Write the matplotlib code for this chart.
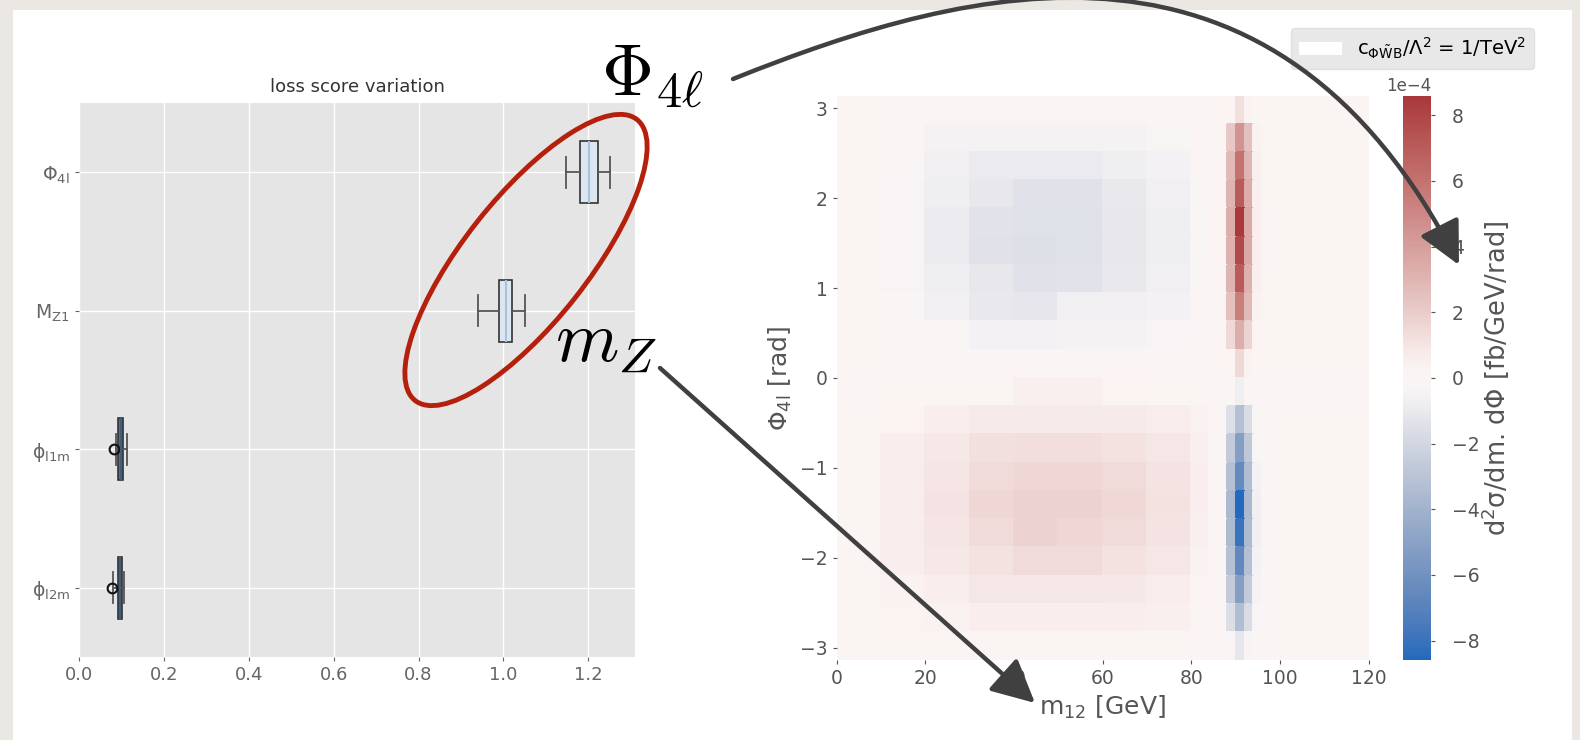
import numpy as np
import matplotlib
matplotlib.use("Agg")
import matplotlib.pyplot as plt
import seaborn as sns
from matplotlib.patches import Ellipse, FancyArrowPatch, Patch, Rectangle
from matplotlib.path import Path
from matplotlib.ticker import ScalarFormatter

plt.rcParams['font.family'] = ['DejaVu Sans']

# --- left panel: loss score variation (bottom to top) ---
features = [r'ϕ$_\mathregular{l2m}$', r'ϕ$_\mathregular{l1m}$',
            r'M$_\mathregular{Z1}$', r'Φ$_\mathregular{4l}$']
whis_lo = [0.081, 0.087, 0.941, 1.147]
q1 = [0.091, 0.093, 0.989, 1.180]
med = [0.097, 0.098, 1.006, 1.202]
q3 = [0.101, 0.104, 1.020, 1.222]
whis_hi = [0.107, 0.112, 1.052, 1.252]
fliers = [[0.077], [0.083], [], []]
box_colors = ['#4d7194', '#4d7194', '#dde6ef', '#dde6ef']
loss_ticks = [0.0, 0.2, 0.4, 0.6, 0.8, 1.0, 1.2]

# --- right panel: d2sigma / dm12 dPhi4l, units of 1e-4 fb/GeV/rad ---
m12_edges = [0, 10, 20, 30, 40, 50, 60, 70, 80, 84, 88, 90, 92, 94, 96, 100, 110, 120]
phi_edges = np.linspace(np.pi, -np.pi, 21)  # top row first
# columns: 0-10 10-20 20-30 30-40 40-50 50-60 60-70 70-80 80-84 84-88 88-90 90-92 92-94 94-96 96-100 100-110 110-120
dsigma = [
    [0.15, 0.10, 0.10, 0.10, 0.10, 0.10, 0.10, 0.10, 0.10, 0.15, 0.3, 1.2, 0.3, 0.15, 0.15, 0.15, 0.15],
    [0.15, 0.00, -0.5, -0.5, -0.5, -0.5, -0.5, -0.4, 0.05, 0.15, 2.2, 4.5, 2.6, 0.4, 0.2, 0.15, 0.15],
    [0.15, -0.25, -0.7, -0.95, -0.95, -0.95, -0.8, -0.55, 0.0, 0.25, 2.8, 6.0, 3.0, 0.5, 0.2, 0.15, 0.15],
    [0.15, -0.3, -0.8, -1.1, -1.35, -1.35, -1.05, -0.7, -0.1, 0.25, 3.0, 7.0, 3.4, 0.5, 0.2, 0.15, 0.15],
    [0.15, -0.3, -0.9, -1.3, -1.45, -1.45, -1.1, -0.8, -0.1, 0.3, 3.3, 8.6, 3.6, 0.6, 0.25, 0.15, 0.15],
    [0.15, -0.3, -0.9, -1.35, -1.5, -1.45, -1.1, -0.8, -0.1, 0.3, 3.2, 7.8, 3.5, 0.55, 0.25, 0.15, 0.15],
    [0.15, -0.3, -0.8, -1.1, -1.35, -1.3, -1.05, -0.7, -0.1, 0.25, 3.0, 7.0, 3.2, 0.5, 0.2, 0.15, 0.15],
    [0.15, -0.25, -0.7, -1.05, -1.2, -0.7, -0.7, -0.55, 0.0, 0.25, 2.5, 5.5, 2.8, 0.4, 0.2, 0.15, 0.15],
    [0.15, 0.0, -0.25, -0.55, -0.55, -0.5, -0.5, -0.3, 0.05, 0.2, 1.5, 3.3, 1.8, 0.3, 0.15, 0.15, 0.15],
    [0.15, 0.1, 0.1, 0.1, 0.1, 0.1, 0.1, 0.1, 0.1, 0.15, 0.3, 1.5, 0.4, 0.15, 0.15, 0.15, 0.15],
    [0.1, 0.2, 0.2, 0.2, 0.5, 0.5, 0.3, 0.2, 0.2, 0.1, -0.1, -0.8, -0.1, 0.05, 0.1, 0.1, 0.1],
    [0.15, 0.3, 0.55, 0.7, 0.7, 0.7, 0.7, 0.65, 0.4, 0.1, -1.5, -3.2, -1.7, -0.2, 0.1, 0.15, 0.15],
    [0.15, 0.55, 0.85, 1.2, 1.25, 1.25, 1.1, 0.9, 0.5, 0.1, -2.6, -5.2, -2.8, -0.4, 0.1, 0.15, 0.15],
    [0.15, 0.65, 1.0, 1.4, 1.6, 1.55, 1.4, 1.05, 0.55, 0.1, -3.2, -6.5, -3.4, -0.6, 0.1, 0.15, 0.15],
    [0.15, 0.65, 1.05, 1.55, 1.8, 1.8, 1.5, 1.1, 0.55, 0.1, -3.6, -8.6, -3.6, -0.7, 0.1, 0.15, 0.15],
    [0.15, 0.65, 1.0, 1.4, 1.7, 1.6, 1.4, 1.05, 0.5, 0.1, -3.5, -8.0, -3.5, -0.7, 0.1, 0.15, 0.15],
    [0.15, 0.55, 0.85, 1.1, 1.4, 1.4, 1.1, 0.9, 0.4, 0.1, -3.2, -6.6, -3.2, -0.6, 0.1, 0.15, 0.15],
    [0.15, 0.4, 0.55, 0.9, 0.9, 0.9, 0.85, 0.65, 0.3, 0.1, -2.6, -5.2, -2.6, -0.5, 0.1, 0.15, 0.15],
    [0.15, 0.3, 0.4, 0.55, 0.55, 0.55, 0.55, 0.5, 0.2, 0.1, -1.6, -3.4, -1.7, -0.3, 0.1, 0.15, 0.15],
    [0.15, 0.15, 0.15, 0.15, 0.15, 0.15, 0.15, 0.15, 0.1, 0.1, -0.3, -1.2, -0.3, -0.05, 0.1, 0.15, 0.15],
]
m12_ticks = [0, 20, 40, 60, 80, 100, 120]
phi_ticks = [-3, -2, -1, 0, 1, 2, 3]
cbar_ticks = [-8, -6, -4, -2, 0, 2, 4, 6, 8]
vlim = 8.6

W, H = 1580, 740
fig = plt.figure(figsize=(W / 100, H / 100), dpi=100, facecolor='#ebe8e3')
# white slide panel
fig.add_artist(Rectangle((13 / W, 0), (1572 - 13) / W, (H - 10) / H,
                         transform=fig.transFigure, facecolor='white',
                         edgecolor='none', zorder=-10))

# ---------- left: box plots ----------
ax1 = fig.add_axes([79 / W, (H - 657) / H, 556 / W, 554 / H])
ax1.set_facecolor('#e5e5e5')
stats = []
for i in range(len(features)):
    stats.append(dict(med=med[i], q1=q1[i], q3=q3[i], whislo=whis_lo[i],
                      whishi=whis_hi[i], fliers=fliers[i], label=features[i]))
bp = ax1.bxp(stats, positions=range(1, len(features) + 1), widths=0.45,
             orientation='horizontal', patch_artist=True,
             boxprops=dict(edgecolor='#333333', linewidth=1.2),
             whiskerprops=dict(color='#555555', linewidth=1.3),
             capprops=dict(color='#555555', linewidth=1.3),
             medianprops=dict(color='#a5c3de', linewidth=1.5),
             flierprops=dict(marker='o', markerfacecolor='none',
                             markeredgecolor='#111111', markersize=7, markeredgewidth=1.5))
for patch, c in zip(bp['boxes'], box_colors):
    patch.set_facecolor(c)
for line, c in zip(bp['medians'], box_colors):
    if c == '#4d7194':
        line.set_color('#3f5f7f')
ax1.set_xlim(0, 1.31)
ax1.set_ylim(0.5, len(features) + 0.5)
ax1.set_xticks(loss_ticks)
ax1.set_xticklabels([f'{t:.1f}' for t in loss_ticks])
ax1.grid(True, color='white', linewidth=1)
ax1.set_axisbelow(True)
for s in ax1.spines.values():
    s.set_visible(False)
ax1.tick_params(axis='x', labelsize=13, colors='#666666', length=3)
ax1.tick_params(axis='y', labelsize=13.5, colors='#666666', length=3)
ax1.set_title('loss score variation', fontsize=13, color='#333333', pad=8)

# ---------- right: 2D differential cross section ----------
cmap = sns.color_palette('vlag', as_cmap=True)
ax2 = fig.add_axes([836.7 / W, (H - 660.3) / H, 532 / W, 564.8 / H])
mesh = ax2.pcolormesh(m12_edges, phi_edges, np.array(dsigma) * 1e-4, cmap=cmap,
                      vmin=-vlim * 1e-4, vmax=vlim * 1e-4, shading='flat',
                      edgecolors='face', linewidth=0.2)
ax2.set_xlim(0, 120)
ax2.set_ylim(-np.pi, np.pi)
ax2.set_xticks(m12_ticks)
ax2.set_yticks(phi_ticks)
for s in ax2.spines.values():
    s.set_visible(False)
ax2.tick_params(labelsize=13.5, colors='#555555', length=3)
ax2.set_xlabel('m$_{12}$ [GeV]', fontsize=18, color='#555555', labelpad=4)
ax2.set_ylabel(r'Φ$_\mathregular{4l}$ [rad]', fontsize=18, color='#555555', labelpad=4)

cax = fig.add_axes([1403 / W, (H - 660.3) / H, 28 / W, 564.8 / H])
cb = fig.colorbar(mesh, cax=cax)
cb.outline.set_visible(False)
cb.set_ticks([t * 1e-4 for t in cbar_ticks])
fmt = ScalarFormatter(useMathText=False)
fmt.set_powerlimits((-3, 3))
cb.ax.yaxis.set_major_formatter(fmt)
cb.ax.tick_params(labelsize=13.5, colors='#555555', length=3, pad=12)
cb.ax.yaxis.get_offset_text().set_fontsize(12)
cb.ax.yaxis.get_offset_text().set_color('#555555')
cb.set_label('d$^2$σ/dm. dΦ [fb/GeV/rad]', fontsize=18.5, color='#555555', labelpad=0)

fig.legend(handles=[Patch(facecolor='white', edgecolor='none',
                          label=r'c$_\mathregular{\Phi\tilde{W}B}$/Λ$^2$ = 1/TeV$^2$')],
           loc='upper right', bbox_to_anchor=(1534 / W, 1 - 28 / H), borderaxespad=0,
           fontsize=14, facecolor='#e8e8e8', edgecolor='#e0e0e0',
           framealpha=1, handlelength=2.2)

# ---------- slide annotations (pixel coordinates) ----------
ov = fig.add_axes([0, 0, 1, 1], zorder=10)
ov.set_xlim(0, W)
ov.set_ylim(H, 0)
ov.axis('off')
ov.patch.set_alpha(0)

ov.add_patch(Ellipse((526, 260), 358, 124, angle=-51.7, fill=False,
                     edgecolor='#b5200d', linewidth=3.5))
ov.text(601, 95, r'$\Phi_{4\ell}$', fontsize=52, math_fontfamily='cm',
        ha='left', va='baseline', color='black')
ov.text(555, 360, r'$m_Z$', fontsize=52, math_fontfamily='cm',
        ha='left', va='baseline', color='black')

arrow_kw = dict(arrowstyle='-|>,head_length=1.1,head_width=0.55', mutation_scale=24,
                linewidth=3.2, color='#404040', shrinkA=0, shrinkB=0)
arc = Path([(733, 79), (975, -18), (1275, -95), (1459, 265)],
           [Path.MOVETO, Path.CURVE4, Path.CURVE4, Path.CURVE4])
ov.add_patch(FancyArrowPatch(path=arc, **arrow_kw))
ov.add_patch(FancyArrowPatch((660, 368), (1035, 703),
                             connectionstyle='arc3,rad=0', **arrow_kw))

fig.savefig('out.png', dpi=100, facecolor=fig.get_facecolor())
